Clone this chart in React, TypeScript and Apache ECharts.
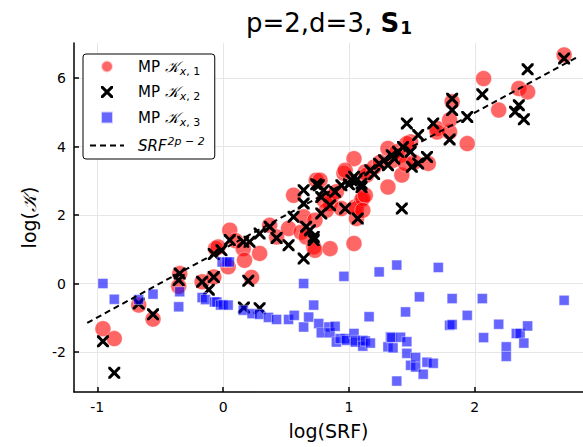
import React, { useEffect, useRef } from "react";
import * as echarts from "echarts";

const xTicks = [-1, 0, 1, 2];
const yTicks = [-2, 0, 2, 4, 6];
const xRange = [-1.185, 2.86];
const yRange = [-3.17, 7.03];

const seriesNames = ["MP K x,1", "MP K x,2", "MP K x,3", "SRF^(2p-2)"];

// MP K_{x,1} (red circles): [log(SRF), log(K)]
const k1: number[][] = [
  [-0.955, -1.32], [-0.865, -1.61], [-0.671, -0.63], [-0.557, -1.04], [-0.345, 0.29],
  [-0.353, -0.08], [-0.167, 0.05], [-0.074, 0.19], [-0.06, 1.02], [-0.04, 1.07],
  [0.04, 0.49], [0.053, 1.56], [0.1, 1.25], [0.16, 1.02], [0.17, 0.68], [0.29, 0.88],
  [0.226, 0.18], [0.37, 1.7], [0.425, 1.36], [0.52, 1.61], [0.56, 2.58], [0.62, 1.5],
  [0.64, 1.95], [0.66, 1.36], [0.72, 1.07], [0.73, 1.85], [0.74, 3.02], [0.77, 3.02],
  [0.8, 2.44], [0.73, 0.97], [0.85, 1.02], [0.85, 2.34], [0.86, 2.53], [0.82, 2.14],
  [0.94, 2.19], [1.04, 1.17], [1.06, 1.9], [1.05, 2.24], [0.96, 3.22], [1.1, 2.44],
  [0.9, 2.68], [1.06, 2.19], [1.11, 2.49], [1.04, 3.65], [0.97, 3.31], [1.13, 3.26],
  [1.14, 3.17], [1.31, 2.82], [1.13, 2.58], [1.11, 2.14], [1.2, 3.4], [1.25, 3.55],
  [1.31, 3.95], [1.35, 3.6], [1.38, 3.85], [1.41, 3.75], [1.42, 3.17], [1.45, 3.5],
  [1.49, 4.14], [1.46, 4.09], [1.52, 3.55], [1.63, 3.51], [1.7, 4.53], [1.7, 4.43],
  [1.8, 4.43], [1.8, 4.78], [1.82, 5.31], [1.94, 4.09], [2.07, 5.99], [2.19, 5.07],
  [2.35, 5.7], [2.42, 5.6], [2.71, 6.68],
];

// MP K_{x,2} (black crosses)
const k2: number[][] = [
  [-0.955, -1.69], [-0.865, -2.61], [-0.671, -0.585], [-0.557, -0.9], [-0.345, 0.29],
  [-0.353, 0.1], [-0.167, 0.05], [-0.114, -0.18], [-0.074, 0.19], [-0.074, 0.86],
  [-0.013, 0.97], [0.053, 1.27], [0.16, 1.22], [0.21, 1.22], [0.2, 0.08], [0.165, -0.7],
  [0.29, -0.72], [0.37, 1.66], [0.29, 1.46], [0.425, 1.33], [0.52, 1.12], [0.64, 2.73],
  [0.64, 2.34], [0.56, 1.95], [0.64, 0.73], [0.72, 1.36], [0.69, 1.56], [0.66, 1.66],
  [0.72, 1.27], [0.74, 2.9], [0.78, 2.05], [0.8, 2.73], [0.76, 2.87], [0.78, 2.53],
  [0.85, 2.29], [0.89, 2.68], [0.97, 2.19], [1.07, 1.9], [1.02, 3.02], [0.94, 2.87],
  [1.0, 2.9], [1.1, 2.92], [1.04, 3.12], [1.17, 3.31], [1.1, 2.82], [1.06, 3.02],
  [1.2, 3.2], [1.24, 3.5], [1.28, 3.6], [1.36, 3.65], [1.42, 2.19], [1.31, 3.46],
  [1.34, 3.75], [1.39, 3.85], [1.49, 3.85], [1.62, 3.7], [1.55, 3.51], [1.5, 3.41],
  [1.43, 3.99], [1.46, 4.68], [1.55, 4.34], [1.67, 4.68], [1.8, 4.21], [1.82, 5.07],
  [1.82, 5.4], [1.94, 4.87], [2.06, 5.53], [2.35, 5.21], [2.32, 5.02], [2.39, 4.8],
  [2.42, 6.26], [2.71, 6.58],
];

// MP K_{x,3} (blue squares)
const k3: number[][] = [
  [-0.955, 0.0], [-0.865, -0.46], [-0.671, -0.47], [-0.557, -0.31], [-0.345, -0.24],
  [-0.353, -0.68], [-0.167, -0.41], [-0.14, -0.47], [-0.069, -0.54], [-0.05, -0.54],
  [-0.02, -0.63], [0.0, -0.62], [0.04, -0.63], [-0.008, 0.63], [0.03, 0.63], [0.05, 0.63],
  [0.16, -0.78], [0.23, -0.88], [0.29, -0.9], [0.36, -0.99], [0.425, -1.05], [0.52, -1.05],
  [0.565, -0.93], [0.64, 0.0], [0.64, -1.27], [0.68, -0.98], [0.72, -0.63], [0.76, -1.17],
  [0.78, -1.44], [0.84, -1.27], [0.85, -1.44], [0.89, -1.25], [0.9, -1.71], [0.93, -1.61],
  [0.96, 0.21], [0.97, -1.61], [0.98, -1.66], [1.04, -1.46], [1.05, -1.66], [1.05, -1.71],
  [1.11, -1.66], [1.11, -1.83], [1.13, -1.68], [1.16, -0.97], [1.17, -1.74], [1.24, 0.34],
  [1.31, -1.85], [1.33, -1.56], [1.34, -1.58], [1.35, -1.88], [1.38, 0.54], [1.38, -2.85],
  [1.41, -1.57], [1.45, -0.83], [1.46, -1.7], [1.46, -2.04], [1.49, -2.39], [1.53, -2.16],
  [1.53, -2.44], [1.56, -0.39], [1.59, -2.65], [1.62, -2.3], [1.67, -2.33], [1.71, 0.47],
  [1.8, -1.22], [1.82, -1.2], [1.82, -0.44], [1.94, -0.93], [2.06, -0.44], [2.07, -1.58],
  [2.19, -1.19], [2.25, -1.85], [2.25, -2.13], [2.33, -1.46], [2.36, -1.46], [2.39, -1.74],
  [2.42, -1.24], [2.71, -0.49],
];

// reference line SRF^{2p-2}: endpoints
const refLine: number[][] = [[-1.08, -1.15], [2.82, 6.63]];

const FONT = "DejaVu Sans";
const CROSS =
  "path://M0,0L3.6,0L10,6.4L16.4,0L20,0L20,3.6L13.6,10L20,16.4L20,20L16.4,20L10,13.6L3.6,20L0,20L0,16.4L6.4,10L0,3.6Z";
const SQUARE = "path://M0,0L10,0L10,10L0,10Z";

export default function App() {
  const ref = useRef<HTMLDivElement>(null);
  useEffect(() => {
    if (!ref.current) return;
    const chart = echarts.init(ref.current, null, { renderer: "svg" });
    const legendLabels: Record<string, string> = {
      [seriesNames[0]]: "{t|MP }{k|𝒦}{subi|x}{sub|, 1}",
      [seriesNames[1]]: "{t|MP }{k|𝒦}{subi|x}{sub|, 2}",
      [seriesNames[2]]: "{t|MP }{k|𝒦}{subi|x}{sub|, 3}",
      [seriesNames[3]]: "{it|SRF}{sup|2p − 2}",
    };
    chart.setOption({
      animation: false,
      backgroundColor: "#fff",
      textStyle: { fontFamily: FONT },
      title: {
        text: "p=2,d=3, {b|S}{s|1}",
        left: 241,
        top: 4,
        textStyle: {
          fontFamily: FONT,
          fontSize: 26,
          fontWeight: "normal",
          color: "#000",
          rich: {
            b: { fontFamily: FONT, fontSize: 26, fontWeight: "bold", color: "#000" },
            s: { fontFamily: FONT, fontSize: 17, fontWeight: "bold", color: "#000", padding: [10, 0, 0, 1] },
          },
        },
      },
      grid: { left: 74, right: 0, top: 43, bottom: 55, outerBoundsMode: "none" },
      legend: {
        orient: "vertical",
        left: 83,
        top: 54,
        padding: [5, 10, 6, 6],
        itemWidth: 34,
        itemHeight: 12,
        itemGap: 8,
        borderColor: "#000",
        borderWidth: 1,
        borderRadius: 3,
        backgroundColor: "#fff",
        data: [
          seriesNames[0],
          seriesNames[1],
          seriesNames[2],
          { name: seriesNames[3], itemStyle: { opacity: 0 } },
        ],
        formatter: (name: string) => legendLabels[name],
        textStyle: {
          fontFamily: FONT,
          fontSize: 15,
          color: "#000",
          padding: [0, 0, 0, 9],
          rich: {
            t: { fontFamily: FONT, fontSize: 15, color: "#000" },
            k: { fontFamily: "DejaVu Serif", fontStyle: "italic", fontSize: 15, color: "#000" },
            subi: { fontFamily: FONT, fontStyle: "italic", fontSize: 11, color: "#000", padding: [9, 0, 0, 1] },
            sub: { fontFamily: FONT, fontSize: 11, color: "#000", padding: [9, 0, 0, 0] },
            it: { fontFamily: FONT, fontStyle: "italic", fontSize: 15, color: "#000" },
            sup: { fontFamily: FONT, fontStyle: "italic", fontSize: 11, color: "#000", padding: [0, 0, 9, 1] },
          },
        },
      },
      xAxis: {
        type: "value",
        min: xRange[0],
        max: xRange[1],
        name: "log(SRF)",
        nameLocation: "middle",
        nameGap: 29,
        nameTextStyle: { fontFamily: FONT, fontSize: 19, color: "#000" },
        axisLine: { onZero: false, lineStyle: { color: "#000", width: 1.5 } },
        axisTick: { inside: true, length: 5, customValues: xTicks, lineStyle: { color: "#000", width: 1.5 } },
        axisLabel: { customValues: xTicks, margin: 8, fontFamily: FONT, fontSize: 14, color: "#000" },
        splitLine: { show: true, lineStyle: { color: "#e6e6e6", width: 1 } },
      },
      yAxis: {
        type: "value",
        min: yRange[0],
        max: yRange[1],
        name: "log({k|𝒦})",
        nameLocation: "middle",
        nameGap: 36,
        nameTextStyle: {
          fontFamily: FONT,
          fontSize: 19,
          color: "#000",
          rich: { k: { fontFamily: "DejaVu Serif", fontStyle: "italic", fontSize: 19, color: "#000" } },
        },
        axisLine: { onZero: false, lineStyle: { color: "#000", width: 1.5 } },
        axisTick: { inside: true, length: 5, customValues: yTicks, lineStyle: { color: "#000", width: 1.5 } },
        axisLabel: { customValues: yTicks, margin: 8, fontFamily: FONT, fontSize: 14, color: "#000" },
        splitLine: { show: true, lineStyle: { color: "#e6e6e6", width: 1 } },
      },
      series: [
        {
          name: seriesNames[0],
          type: "scatter",
          data: k1,
          symbol: "circle",
          symbolSize: 16,
          itemStyle: { color: "rgba(255,0,0,0.6)", opacity: 1, borderColor: "rgba(255,255,255,0.7)", borderWidth: 0.6 },
        },
        {
          name: seriesNames[1],
          type: "scatter",
          data: k2,
          symbol: CROSS,
          symbolSize: 12,
          itemStyle: { color: "#000", opacity: 1 },
        },
        {
          name: seriesNames[2],
          type: "scatter",
          data: k3,
          symbol: SQUARE,
          symbolSize: 10,
          itemStyle: { color: "rgba(0,0,255,0.6)", opacity: 1, borderColor: "rgba(255,255,255,0.7)", borderWidth: 0.6 },
        },
        {
          name: seriesNames[3],
          type: "line",
          data: refLine,
          symbol: "none",
          itemStyle: { color: "#000" },
          lineStyle: { color: "#000", width: 2, type: [6, 4] },
        },
      ],
    });
    return () => chart.dispose();
  }, []);
  return <div ref={ref} style={{ width: 583, height: 447, position: "absolute", left: 0, top: 0 }} />;
}
